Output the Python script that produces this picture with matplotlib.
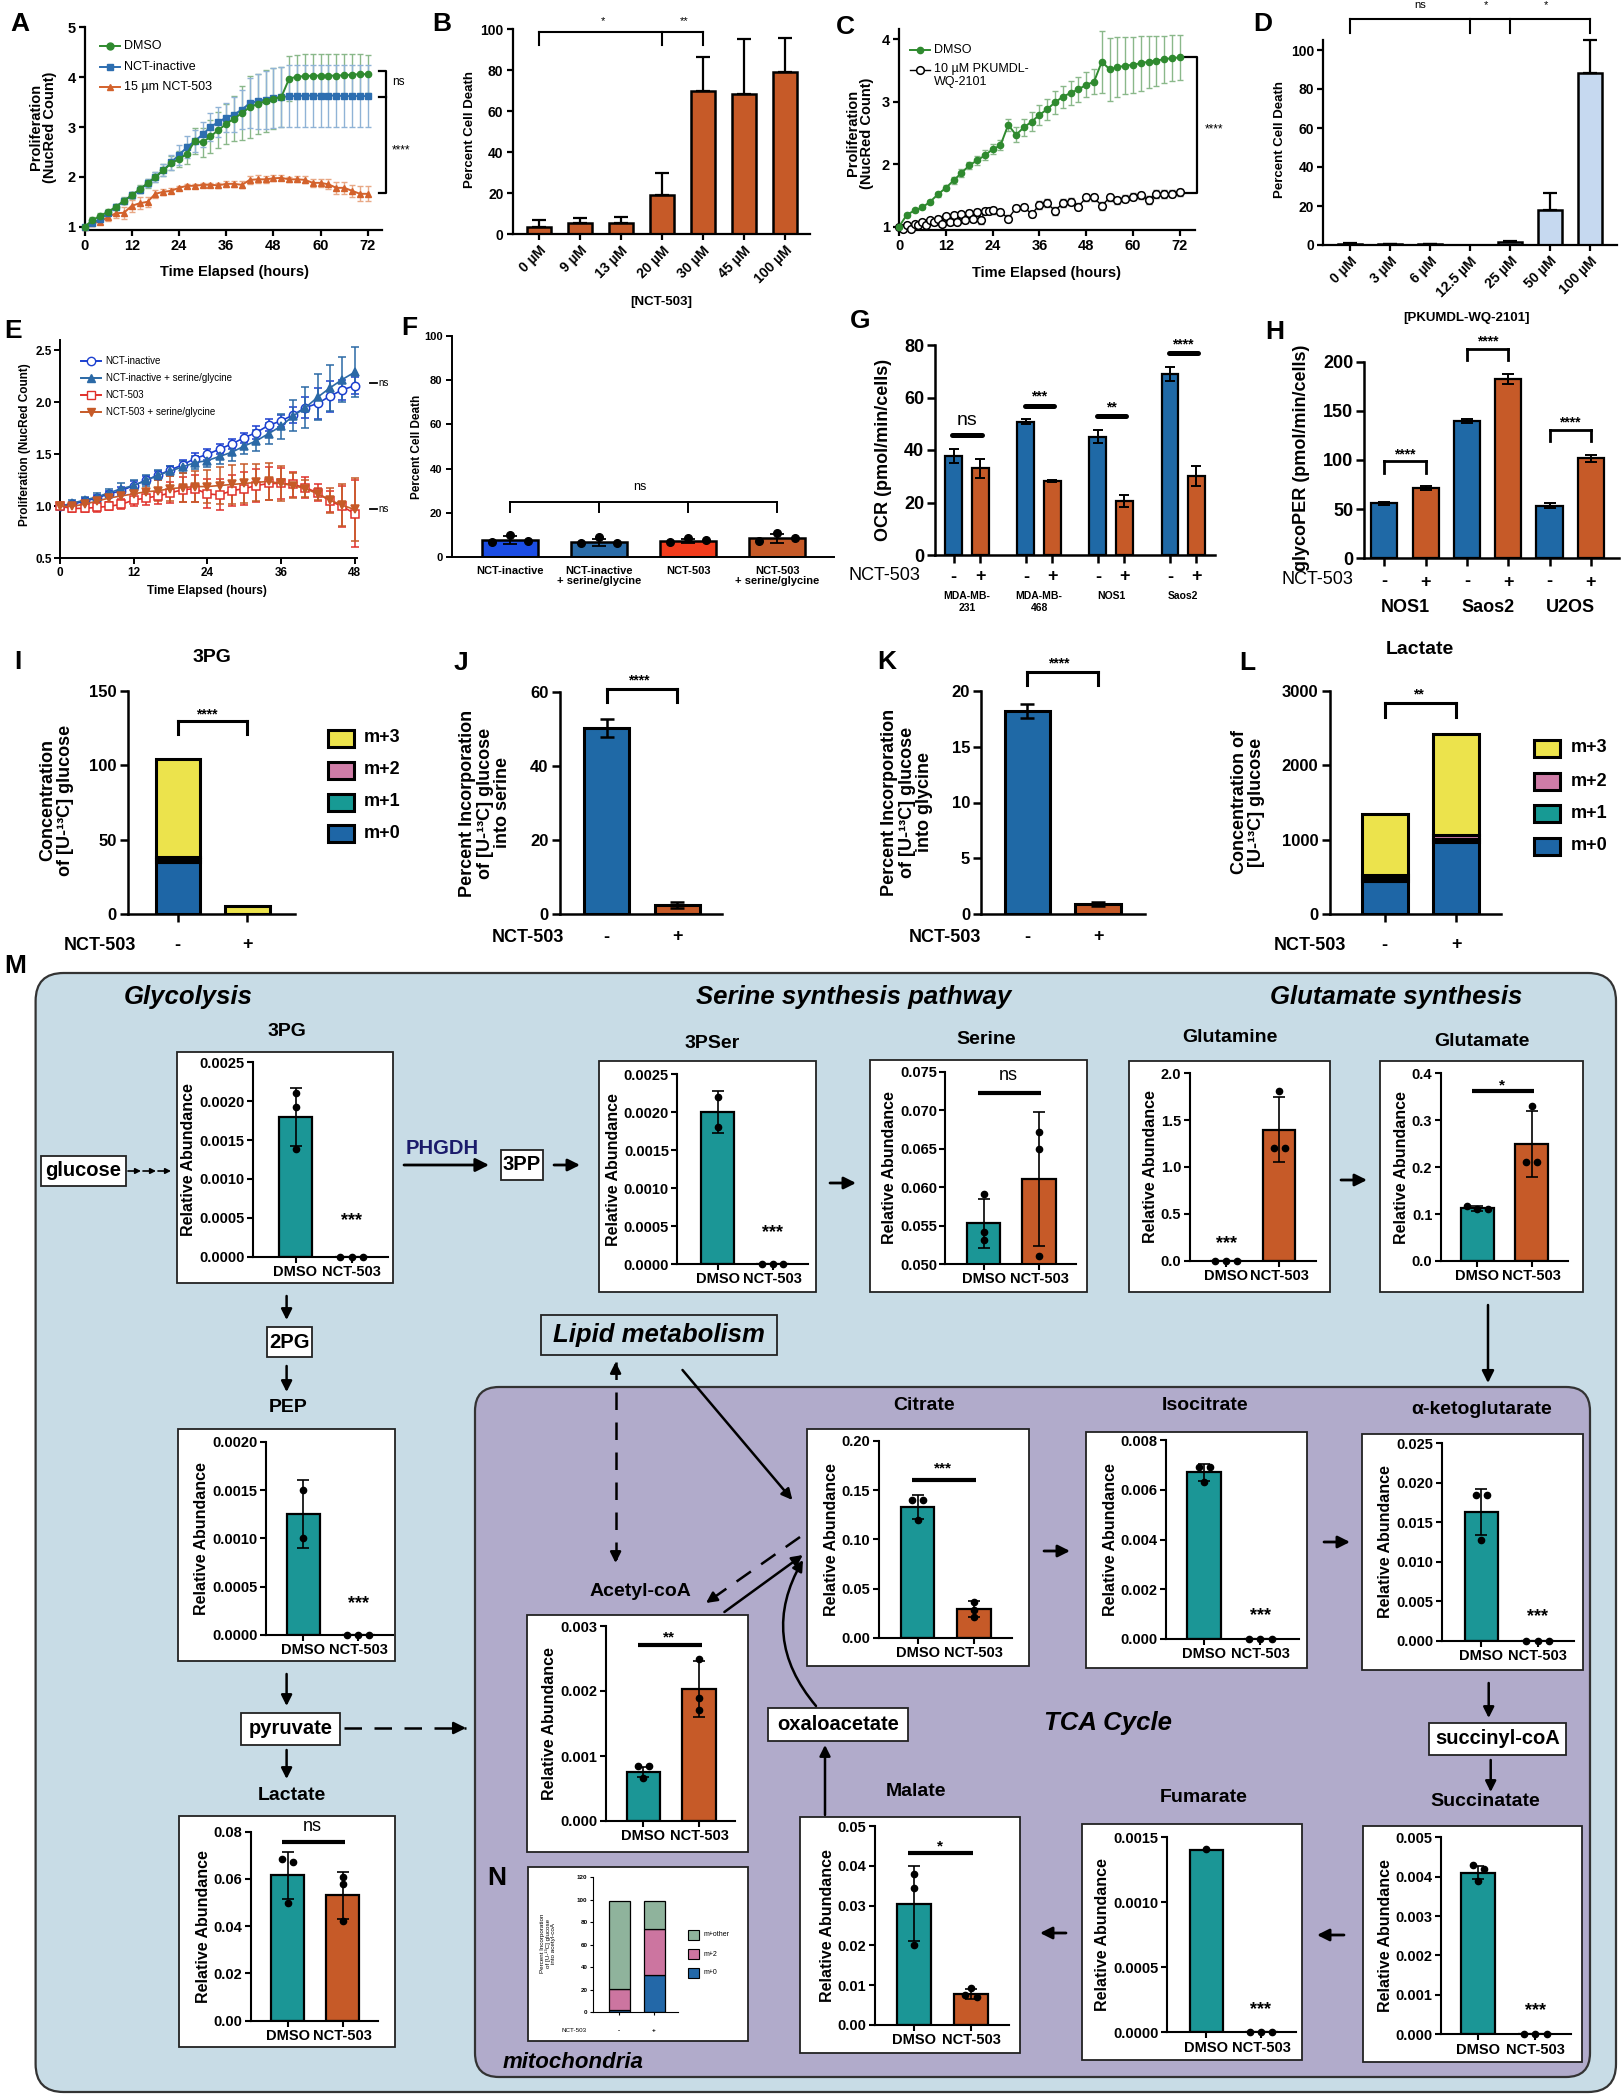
import matplotlib
matplotlib.use("Agg")
import matplotlib.pyplot as plt
from matplotlib.patches import Rectangle, FancyBboxPatch, FancyArrowPatch

# ---------------------------------------------------------------- data
# A: proliferation with 15 uM NCT-503
hours_a = list(range(0, 73, 2))
dmso_a = [1.00, 1.13, 1.22, 1.30, 1.40, 1.52, 1.63, 1.75, 1.87, 2.00, 2.13, 2.27, 2.36, 2.46, 2.72, 2.69,
          2.81, 2.94, 3.06, 3.17, 3.28, 3.40, 3.46, 3.52, 3.57, 3.60, 3.97, 4.01, 4.02, 4.03, 4.03, 4.03,
          4.03, 4.04, 4.05, 4.06, 4.06]
dmso_a_sd = [0.02, 0.06, 0.06, 0.06, 0.06, 0.07, 0.07, 0.08, 0.09, 0.10, 0.12, 0.14, 0.16, 0.20, 0.26, 0.30,
             0.33, 0.36, 0.40, 0.45, 0.55, 0.62, 0.60, 0.62, 0.62, 0.60, 0.45, 0.44, 0.44, 0.44, 0.44, 0.44,
             0.44, 0.43, 0.42, 0.40, 0.38]
inact_a = [1.00, 1.08, 1.15, 1.28, 1.40, 1.52, 1.63, 1.74, 1.87, 2.00, 2.13, 2.29, 2.44, 2.59, 2.72, 2.85,
           3.00, 3.10, 3.19, 3.25, 3.35, 3.48, 3.52, 3.55, 3.58, 3.60, 3.62, 3.62, 3.63, 3.63, 3.63, 3.63,
           3.63, 3.62, 3.62, 3.62, 3.62]
inact_a_sd = [0.02, 0.05, 0.05, 0.05, 0.05, 0.06, 0.06, 0.07, 0.08, 0.10, 0.12, 0.15, 0.20, 0.22, 0.22, 0.25,
              0.28, 0.30, 0.30, 0.35, 0.40, 0.50, 0.55, 0.58, 0.60, 0.60, 0.62, 0.62, 0.62, 0.62, 0.62, 0.62,
              0.62, 0.62, 0.62, 0.62, 0.62]
nct_a = [1.00, 1.07, 1.10, 1.20, 1.27, 1.28, 1.42, 1.47, 1.50, 1.66, 1.70, 1.72, 1.78, 1.82, 1.82, 1.84,
         1.84, 1.83, 1.86, 1.86, 1.84, 1.94, 1.95, 1.95, 1.97, 1.98, 1.95, 1.95, 1.94, 1.88, 1.88, 1.85,
         1.78, 1.78, 1.72, 1.66, 1.66]
nct_a_sd = [0.02, 0.05, 0.05, 0.08, 0.10, 0.12, 0.12, 0.12, 0.10, 0.08, 0.06, 0.05, 0.04, 0.04, 0.04, 0.04,
            0.04, 0.05, 0.06, 0.06, 0.07, 0.08, 0.08, 0.07, 0.06, 0.05, 0.05, 0.06, 0.07, 0.08, 0.08, 0.10,
            0.12, 0.12, 0.12, 0.15, 0.15]

# B: cell death vs NCT-503 dose
b_doses = ["0 µM", "9 µM", "13 µM", "20 µM", "30 µM", "45 µM", "100 µM"]
b_death = [3.7, 5.4, 5.4, 19.2, 70.1, 68.5, 79.3]
b_sd = [3.3, 2.4, 3.2, 10.9, 16.6, 26.6, 16.3]

# C: proliferation with PKUMDL-WQ-2101
hours_c = list(range(0, 73, 2))
dmso_c = [1.00, 1.19, 1.26, 1.31, 1.40, 1.52, 1.62, 1.74, 1.86, 1.98, 2.06, 2.14, 2.24, 2.30, 2.63, 2.47,
          2.59, 2.68, 2.79, 2.88, 2.99, 3.08, 3.14, 3.20, 3.27, 3.32, 3.64, 3.52, 3.55, 3.58, 3.59, 3.62,
          3.64, 3.66, 3.68, 3.70, 3.71]
dmso_c_sd = [0.02, 0.03, 0.03, 0.03, 0.03, 0.04, 0.04, 0.05, 0.06, 0.06, 0.07, 0.08, 0.08, 0.08, 0.10, 0.12,
             0.14, 0.15, 0.16, 0.17, 0.18, 0.18, 0.19, 0.20, 0.20, 0.20, 0.50, 0.50, 0.48, 0.46, 0.45, 0.44,
             0.42, 0.40, 0.38, 0.37, 0.36]
hours_pk = list(range(0, 25)) + list(range(26, 73, 2))
pk_c = [1.00, 0.97, 1.03, 0.97, 1.05, 1.02, 1.07, 1.03, 1.10, 1.07, 1.13, 1.05, 1.17, 1.07, 1.18, 1.08,
        1.20, 1.10, 1.22, 1.12, 1.24, 1.10, 1.25, 1.25, 1.26, 1.24, 1.13, 1.30, 1.32, 1.20, 1.35, 1.38,
        1.25, 1.38, 1.40, 1.32, 1.47, 1.47, 1.33, 1.47, 1.42, 1.45, 1.48, 1.50, 1.43, 1.52, 1.52, 1.53, 1.55]
pk_c_sd = [0.02, 0.03, 0.03, 0.03, 0.03, 0.03, 0.03, 0.03, 0.04, 0.04, 0.04, 0.04, 0.04, 0.04, 0.04, 0.04,
           0.04, 0.04, 0.05, 0.05, 0.05, 0.05, 0.05, 0.05, 0.05, 0.05, 0.05, 0.05, 0.05, 0.05, 0.06, 0.06,
           0.06, 0.06, 0.06, 0.06, 0.06, 0.06, 0.06, 0.06, 0.06, 0.06, 0.06, 0.06, 0.06, 0.06, 0.06, 0.06, 0.06]

# D: cell death vs PKUMDL-WQ-2101 dose
d_doses = ["0 µM", "3 µM", "6 µM", "12.5 µM", "25 µM", "50 µM", "100 µM"]
d_death = [0.5, 0.4, 0.4, 0.0, 1.4, 18.0, 88.0]
d_sd = [0.3, 0.2, 0.3, 0.0, 0.6, 8.5, 17.0]

# E: serine/glycine rescue
hours_e = list(range(0, 49, 2))
inact_e = [1.00, 1.02, 1.05, 1.08, 1.12, 1.15, 1.20, 1.25, 1.30, 1.35, 1.40, 1.46, 1.50, 1.55, 1.60, 1.66,
           1.71, 1.78, 1.82, 1.88, 1.95, 1.99, 2.06, 2.12, 2.16]
inact_e_sd = [0.02, 0.02, 0.03, 0.03, 0.03, 0.04, 0.04, 0.04, 0.04, 0.04, 0.05, 0.05, 0.05, 0.05, 0.05, 0.05,
              0.06, 0.06, 0.06, 0.08, 0.10, 0.15, 0.15, 0.10, 0.08]
inactsg_e = [1.00, 1.03, 1.06, 1.09, 1.13, 1.17, 1.20, 1.25, 1.30, 1.34, 1.38, 1.42, 1.44, 1.48, 1.52, 1.58,
             1.63, 1.70, 1.77, 1.87, 1.95, 2.05, 2.14, 2.22, 2.29]
inactsg_e_sd = [0.02, 0.03, 0.03, 0.04, 0.04, 0.05, 0.05, 0.05, 0.05, 0.05, 0.06, 0.06, 0.06, 0.07, 0.08, 0.08,
                0.10, 0.10, 0.12, 0.15, 0.20, 0.22, 0.22, 0.22, 0.24]
nct_e = [1.00, 0.98, 0.98, 0.99, 1.00, 1.02, 1.06, 1.08, 1.10, 1.13, 1.16, 1.17, 1.12, 1.11, 1.15, 1.17,
         1.20, 1.22, 1.22, 1.21, 1.18, 1.13, 1.05, 1.00, 0.93]
nct_e_sd = [0.03, 0.03, 0.03, 0.04, 0.04, 0.05, 0.06, 0.07, 0.08, 0.10, 0.12, 0.13, 0.14, 0.15, 0.15, 0.16,
            0.16, 0.16, 0.15, 0.12, 0.10, 0.08, 0.10, 0.20, 0.32]
nctsg_e = [1.00, 1.00, 1.02, 1.05, 1.08, 1.10, 1.12, 1.14, 1.15, 1.17, 1.18, 1.19, 1.19, 1.20, 1.21, 1.22,
           1.23, 1.24, 1.22, 1.20, 1.17, 1.12, 1.06, 1.01, 0.97]
nctsg_e_sd = [0.03, 0.03, 0.03, 0.04, 0.04, 0.05, 0.06, 0.08, 0.10, 0.12, 0.14, 0.15, 0.16, 0.18, 0.19, 0.19,
              0.18, 0.18, 0.17, 0.12, 0.08, 0.06, 0.12, 0.20, 0.30]

# F
f_groups = ["NCT-inactive", "NCT-inactive\n+ serine/glycine", "NCT-503", "NCT-503\n+ serine/glycine"]
f_death = [7.8, 6.8, 7.4, 8.6]
f_sd = [1.8, 1.5, 0.8, 2.0]
f_pts = [[7.1, 10.1, 7.4], [6.3, 9.0, 6.6], [7.1, 8.6, 7.7], [7.4, 10.8, 8.6]]

# G: OCR
g_cells = ["MDA-MB-\n231", "MDA-MB-\n468", "NOS1", "Saos2"]
g_ctrl = [37.7, 50.8, 45.1, 69.0]
g_ctrl_sd = [2.7, 0.9, 2.6, 2.6]
g_nct = [33.0, 28.2, 20.6, 30.2]
g_nct_sd = [3.6, 0.3, 2.3, 3.8]
g_sig = ["ns", "***", "**", "****"]

# H: glycoPER
h_cells = ["NOS1", "Saos2", "U2OS"]
h_ctrl = [56.0, 139.7, 53.6]
h_ctrl_sd = [1.5, 2.5, 2.7]
h_nct = [71.2, 182.4, 101.7]
h_nct_sd = [2.0, 5.0, 3.3]

# I / L isotopologue stacks (- / + NCT-503)
iso_names = ["m+3", "m+2", "m+1", "m+0"]
i_m0 = [34.7, 0.3]
i_m1 = [2.5, 0.0]
i_m2 = [1.0, 0.0]
i_m3 = [66.0, 5.3]
l_m0 = [440, 970]
l_m1 = [40, 40]
l_m2 = [50, 50]
l_m3 = [810, 1360]

# J / K
j_serine = [50.3, 2.4]
j_sd = [2.5, 0.9]
k_glycine = [18.2, 0.9]
k_sd = [0.6, 0.15]

# N: acetyl-coA labelling
n_names = ["m+other", "m+2", "m+0"]
n_m0 = [2.0, 33.0]
n_m2 = [19.0, 41.0]
n_other = [78.0, 25.0]

# M: relative abundance, DMSO vs NCT-503
treat = ["DMSO", "NCT-503"]
pg3_mean, pg3_sd = [0.00180, 0.0], [0.00037, 0.0]
pg3_pts = [[0.00210, 0.00193, 0.00138], [0.0, 0.0, 0.0]]
pser_mean, pser_sd = [0.00200, 0.0], [0.00028, 0.0]
pser_pts = [[0.00220, 0.00180], [0.0, 0.0, 0.0]]
ser_mean, ser_sd = [0.0553, 0.0610], [0.0032, 0.0087]
ser_pts = [[0.0591, 0.0541, 0.0531], [0.0671, 0.0650, 0.0510]]
gln_mean, gln_sd = [0.0, 1.40], [0.0, 0.35]
gln_pts = [[0.0, 0.0, 0.0], [1.81, 1.20, 1.20]]
glu_mean, glu_sd = [0.112, 0.250], [0.005, 0.070]
glu_pts = [[0.118, 0.110, 0.110], [0.330, 0.210, 0.210]]
pep_mean, pep_sd = [0.00125, 0.0], [0.00035, 0.0]
pep_pts = [[0.00150, 0.00100], [0.0, 0.0, 0.0]]
lac_mean, lac_sd = [0.0615, 0.0530], [0.0100, 0.0098]
lac_pts = [[0.0684, 0.0670, 0.0500], [0.0607, 0.0580, 0.0420]]
acoa_mean, acoa_sd = [0.00075, 0.00203], [0.00008, 0.00043]
acoa_pts = [[0.00084, 0.00084, 0.00066], [0.00250, 0.00189, 0.00171]]
cit_mean, cit_sd = [0.133, 0.029], [0.012, 0.008]
cit_pts = [[0.140, 0.140, 0.120], [0.036, 0.028, 0.021]]
icit_mean, icit_sd = [0.0067, 0.0], [0.00033, 0.0]
icit_pts = [[0.0069, 0.0069, 0.0063], [0.0, 0.0, 0.0]]
akg_mean, akg_sd = [0.0163, 0.0], [0.0029, 0.0]
akg_pts = [[0.0185, 0.0185, 0.0128], [0.0, 0.0, 0.0]]
mal_mean, mal_sd = [0.0305, 0.0078], [0.0095, 0.0012]
mal_pts = [[0.0379, 0.0343, 0.0201], [0.0092, 0.0075, 0.0071]]
fum_mean, fum_sd = [0.00140, 0.0], [0.0, 0.0]
fum_pts = [[0.00141], [0.0, 0.0, 0.0]]
suc_mean, suc_sd = [0.00410, 0.0], [0.00017, 0.0]
suc_pts = [[0.00430, 0.00420, 0.00390], [0.0, 0.0, 0.0]]

# ---------------------------------------------------------------- style
GREEN, GREEN_E = "#2f8a2f", "#8ab88a"
BLUE_A, BLUE_A_E = "#2d6eb0", "#90b3d6"
ORANGE_A, ORANGE_A_E = "#d3622c", "#e8a885"
ORANGE = "#c65a28"
BLUE = "#1f69a6"
TEAL = "#1b9696"
LIGHTBLUE = "#c6d9f0"
ISO_COL = {"m+0": "#1e66a6", "m+1": "#179a94", "m+2": "#cf7ca7", "m+3": "#ece34c"}
N_COL = {"m+0": "#2368a8", "m+2": "#cc75a0", "m+other": "#8fb39c"}
CYTO = "#c8dce6"
MITO = "#b1abcb"

plt.rcParams.update({
    "font.family": ["Liberation Sans", "DejaVu Sans"],
    "font.weight": "bold",
    "axes.labelweight": "bold",
})

W, H = 1623, 2100
fig = plt.figure(figsize=(W / 100, H / 100), dpi=100)
bg = fig.add_axes([0, 0, 1, 1])
bg.set_xlim(0, W)
bg.set_ylim(H, 0)
bg.axis("off")


def axes_px(xl, xr, yt, yb, xlim, ylim, fs=10, lw=1.6, tl=4.5):
    ax = fig.add_axes([xl / W, 1 - yb / H, (xr - xl) / W, (yb - yt) / H])
    ax.set_xlim(*xlim)
    ax.set_ylim(*ylim)
    ax.patch.set_visible(False)
    ax.spines["top"].set_visible(False)
    ax.spines["right"].set_visible(False)
    for s in ("left", "bottom"):
        ax.spines[s].set_linewidth(lw)
    ax.tick_params(direction="out", width=lw, length=tl, labelsize=fs, pad=2)
    ax.geom = (xl, xr, yt, yb)
    return ax


def cat_axes(xl, xr, yt, yb, c0, sp, ylim, **kw):
    return axes_px(xl, xr, yt, yb, ((xl - c0) / sp, (xr - c0) / sp), ylim, **kw)


def to_px(ax, x):
    xl, xr, _, _ = ax.geom
    a, b = ax.get_xlim()
    return xl + (x - a) / (b - a) * (xr - xl)


def txt(x, y, s, fs, **kw):
    kw.setdefault("ha", "center")
    kw.setdefault("va", "center")
    return bg.text(x, y, s, fontsize=fs, **kw)


def vlabel(x, y, s, fs, **kw):
    return txt(x, y, s, fs, rotation=90, multialignment="center", linespacing=1.05, **kw)


def stars(ax, x, y, s, fs, dy=-3):
    ax.annotate(s, (x, y), xytext=(0, dy), textcoords="offset points", ha="center", va="center",
                fontsize=fs, annotation_clip=False)


def err(ax, xs, vals, sds, up_only=False, lw=1.5, cap=4, color="black", z=3):
    keep = [(x, v, e) for x, v, e in zip(xs, vals, sds) if e > 0]
    if not keep:
        return
    xs, vals, sds = zip(*keep)
    yerr = [[0] * len(sds), list(sds)] if up_only else list(sds)
    ax.errorbar(xs, vals, yerr=yerr, fmt="none", ecolor=color, elinewidth=lw,
                capsize=cap, capthick=lw, zorder=z, clip_on=False)


def bracket(ax, xs, y, drop, lw=1.5):
    ax.plot([min(xs), max(xs)], [y, y], color="black", lw=lw, clip_on=False, solid_capstyle="projecting")
    for x in xs:
        ax.plot([x, x], [y, y - drop], color="black", lw=lw, clip_on=False)


def arrow(x0, y0, x1, y1, ms=16, lw=1.8, rad=0.0):
    bg.add_patch(FancyArrowPatch((x0, y0), (x1, y1), arrowstyle="-|>", mutation_scale=ms, lw=lw,
                                 color="black", connectionstyle=f"arc3,rad={rad}", shrinkA=0, shrinkB=0))


def dashed_arrow(x0, y0, x1, y1, ms=16, lw=1.8, both=False):
    bg.plot([x0, x1], [y0, y1], color="black", lw=lw, dashes=(7, 5))
    d = ((x1 - x0) ** 2 + (y1 - y0) ** 2) ** 0.5
    ux, uy = (x1 - x0) / d, (y1 - y0) / d
    arrow(x1 - 10 * ux, y1 - 10 * uy, x1, y1, ms=ms, lw=lw)
    if both:
        arrow(x0 + 10 * ux, y0 + 10 * uy, x0, y0, ms=ms, lw=lw)


def rect(x0, y0, x1, y1, fc="white", lw=1.3):
    bg.add_patch(Rectangle((x0, y0), x1 - x0, y1 - y0, facecolor=fc, edgecolor="#222222", lw=lw, zorder=1))


def stacked(ax, layers, colors, width, lw):
    bottom = [0.0] * len(layers[0])
    for vals, c in zip(layers, colors):
        ax.bar(range(len(vals)), vals, width, bottom=bottom, color=c, edgecolor="black", lw=lw, zorder=2)
        bottom = [b + v for b, v in zip(bottom, vals)]


def legend_squares(x0, ys, labels, colors, w, h, fs, tx, lw=2.2, weight="bold"):
    for y, lab, c in zip(ys, labels, colors):
        bg.add_patch(Rectangle((x0, y - h / 2), w, h, facecolor=c, edgecolor="black", lw=lw))
        txt(tx, y, lab, fs, ha="left", fontweight=weight)


def leg_line(x, y, color, marker, text, fs, ms=5, mfc=None, tx=None):
    bg.plot([x - 10, x + 10], [y, y], color=color, lw=1.4)
    bg.plot([x], [y], marker=marker, color=color, ms=ms, mfc=mfc if mfc else color, mec=color)
    txt(tx if tx else x + 14, y, text, fs, ha="left", fontweight="normal")


# ================================================================ A
txt(20, 24, "A", 19)
axA = axes_px(84.6, 382, 27.3, 230, (0, 75.6), (0.934, 5.0), fs=10.5)
axA.set_xticks(range(0, 73, 12))
axA.set_yticks(range(1, 6))
for vals, sd, ec in ((dmso_a, dmso_a_sd, GREEN_E), (inact_a, inact_a_sd, BLUE_A_E), (nct_a, nct_a_sd, ORANGE_A_E)):
    err(axA, hours_a, vals, sd, lw=1.0, cap=2.5, color=ec, z=2)
for vals, c, m in ((nct_a, ORANGE_A, "^"), (inact_a, BLUE_A, "s"), (dmso_a, GREEN, "o")):
    axA.plot(hours_a, vals, color=c, marker=m, ms=4.5, lw=1.4, zorder=3, clip_on=False)
leg_line(110, 46, GREEN, "o", "DMSO", 9, tx=124)
leg_line(110, 67, BLUE_A, "s", "NCT-inactive", 9, tx=124)
leg_line(110, 87, ORANGE_A, "^", "15 µm NCT-503", 9, tx=124)
bg.plot([378.6, 386, 386, 378.6], [71, 71, 193, 193], color="black", lw=1.6)
bg.plot([378.6, 386], [97, 97], color="black", lw=1.6)
txt(392, 82, "ns", 8.5, ha="left", fontweight="normal")
txt(392, 150, "****", 8.5, ha="left", fontweight="normal")
vlabel(43, 127, "Proliferation\n(NucRed Count)", 10.5)
txt(234, 272, "Time Elapsed (hours)", 10.5)

# ================================================================ B
txt(442, 24, "B", 19)
axB = cat_axes(512.5, 810, 29.3, 234.3, 539, 41, (0, 100), fs=10)
xb = list(range(len(b_doses)))
axB.bar(xb, b_death, 0.6, color=ORANGE, edgecolor="black", lw=1.8, zorder=2)
err(axB, xb, b_death, b_sd, up_only=True, lw=1.6, cap=5)
axB.set_xticks(xb)
axB.set_xticklabels(b_doses, rotation=45, ha="right", rotation_mode="anchor")
axB.set_yticks(range(0, 101, 20))
bracket(axB, [0, 3, 4], 98.5, 6.2)
axB.text(1.55, 104, "*", ha="center", va="center", fontsize=8, fontweight="normal")
axB.text(3.55, 104, "**", ha="center", va="center", fontsize=8, fontweight="normal")
vlabel(470, 130, "Percent Cell Death", 9.5)
txt(661, 302, "[NCT-503]", 9.5)

# ================================================================ C
txt(845, 27, "C", 19)
axC = axes_px(899, 1195, 29.3, 230, (0, 75.9), (0.947, 4.16), fs=10.5)
axC.set_xticks(range(0, 73, 12))
axC.set_yticks(range(1, 5))
err(axC, hours_c, dmso_c, dmso_c_sd, lw=1.0, cap=2.5, color=GREEN_E, z=2)
err(axC, hours_pk, pk_c, pk_c_sd, lw=1.0, cap=2.5, color="#555555", z=2)
axC.plot(hours_pk, pk_c, color="black", lw=1.0, marker="o", ms=5.5, mfc="white", mec="black",
         mew=1.1, zorder=3, clip_on=False)
axC.plot(hours_c, dmso_c, color=GREEN, lw=1.4, marker="o", ms=4.5, zorder=4, clip_on=False)
leg_line(920, 50, GREEN, "o", "DMSO", 9, ms=4.5, tx=934)
bg.plot([910, 930], [70, 70], color="black", lw=1.0)
bg.plot([920], [70], marker="o", ms=5.5, mfc="white", mec="black", mew=1.1)
txt(934, 63, "10 µM PKUMDL-\nWQ-2101", 9, ha="left", va="top", fontweight="normal", linespacing=1.1)
bg.plot([1185, 1197, 1197, 1185], [57, 57, 193, 193], color="black", lw=1.6)
txt(1205, 129, "****", 8.5, ha="left", fontweight="normal")
vlabel(860, 133, "Proliferation\n(NucRed Count)", 10.5)
txt(1046, 273, "Time Elapsed (hours)", 10.5)

# ================================================================ D
txt(1263, 24, "D", 19)
axD = cat_axes(1323, 1617, 40.25, 245, 1350, 40, (0, 105), fs=10)
xd = list(range(len(d_doses)))
axD.bar(xd, d_death, 0.6, color=LIGHTBLUE, edgecolor="black", lw=1.8, zorder=2)
err(axD, xd, d_death, d_sd, up_only=True, lw=1.6, cap=5)
axD.set_xticks(xd)
axD.set_xticklabels(d_doses, rotation=45, ha="right", rotation_mode="anchor")
axD.set_yticks(range(0, 101, 20))
bracket(axD, [0, 3, 4, 6], 115.7, 7.0)
axD.text(1.75, 123, "ns", ha="center", va="center", fontsize=8, fontweight="normal")
axD.text(3.4, 123, "*", ha="center", va="center", fontsize=8, fontweight="normal")
axD.text(4.9, 123, "*", ha="center", va="center", fontsize=8, fontweight="normal")
vlabel(1280, 140, "Percent Cell Death", 9.5)
txt(1467, 318, "[PKUMDL-WQ-2101]", 9.5)

# ================================================================ E
txt(13, 331, "E", 19)
axE = axes_px(60, 357, 340, 558.3, (0, 48.4), (0.5, 2.6), fs=8.5, lw=1.4, tl=4)
axE.set_xticks(range(0, 49, 12))
axE.set_yticks([0.5, 1.0, 1.5, 2.0, 2.5])
axE.set_yticklabels(["0.5", "1.0", "1.5", "2.0", "2.5"])
e_series = [
    (inact_e, inact_e_sd, "#1b3fcf", "o", "white", "NCT-inactive"),
    (inactsg_e, inactsg_e_sd, "#2b69a6", "^", None, "NCT-inactive + serine/glycine"),
    (nct_e, nct_e_sd, "#e0302a", "s", "white", "NCT-503"),
    (nctsg_e, nctsg_e_sd, "#c65a28", "v", None, "NCT-503 + serine/glycine"),
]
for k, (vals, sd, c, m, mfc, lab) in enumerate(e_series):
    err(axE, hours_e, vals, sd, lw=1.1, cap=3, color=c, z=2)
    axE.plot(hours_e, vals, color=c, lw=1.2, marker=m, ms=6, mfc=mfc if mfc else c, mec=c,
             mew=1.1, zorder=3, clip_on=False)
    leg_line(91, 361 + 17 * k, c, m, lab, 7, ms=6, mfc=mfc, tx=105.6)
for y in (382.7, 509):
    bg.plot([370, 376.5], [y, y], color="black", lw=1.3)
    txt(378.5, y, "ns", 7, ha="left", fontweight="normal")
vlabel(25.5, 445, "Proliferation (NucRed Count)", 8.5)
txt(206.6, 590.7, "Time Elapsed (hours)", 8.5)

# ================================================================ F
txt(409, 328, "F", 19)
axF = cat_axes(451.5, 834, 335.7, 557.3, 510, 89, (0, 100), fs=8, lw=1.4)
xf = list(range(len(f_groups)))
axF.bar(xf, f_death, 0.64, color=["#1b4de4", "#2b6ca8", "#f23c1c", "#c55a28"], edgecolor="black",
        lw=1.8, zorder=2)
err(axF, xf, f_death, f_sd, lw=1.3, cap=5)
for i, vals in enumerate(f_pts):
    axF.plot([i - 0.2, i, i + 0.2], vals, "o", color="black", ms=5.5, zorder=4)
axF.set_xticks(xf)
axF.set_xticklabels(f_groups, fontsize=8, linespacing=1.05)
axF.tick_params(axis="x", length=0, pad=6)
axF.set_yticks(range(0, 101, 20))
bracket(axF, [0, 1, 2, 3], 24.8, 4.5, lw=1.4)
axF.text(1.46, 31.5, "ns", ha="center", va="center", fontsize=9, fontweight="normal")
vlabel(417, 447, "Percent Cell Death", 8.5)

# ================================================================ G
txt(860, 321, "G", 19)
axG = cat_axes(935.4, 1214.7, 345, 555, 953.8, 26.45, (0, 80), fs=13, lw=1.8, tl=6)
g_x0 = [i * 2.725 for i in range(len(g_cells))]
g_x1 = [x + 1 for x in g_x0]
axG.bar(g_x0, g_ctrl, 0.64, color=BLUE, edgecolor="black", lw=1.6, zorder=2)
axG.bar(g_x1, g_nct, 0.64, color=ORANGE, edgecolor="black", lw=1.6, zorder=2)
err(axG, g_x0, g_ctrl, g_ctrl_sd, lw=1.4, cap=3.5)
err(axG, g_x1, g_nct, g_nct_sd, lw=1.4, cap=3.5)
axG.set_xticks(g_x0 + g_x1)
axG.set_xticklabels([])
axG.set_yticks(range(0, 81, 20))
for x0, x1, a, sa, b, sb, s in zip(g_x0, g_x1, g_ctrl, g_ctrl_sd, g_nct, g_nct_sd, g_sig):
    y = max(a + sa, b + sb) + 5.2
    axG.plot([x0 - 0.05, x1 + 0.05], [y, y], color="black", lw=3.6, solid_capstyle="round", clip_on=False)
    if s == "ns":
        axG.text((x0 + x1) / 2, y + 5.5, s, ha="center", va="center", fontsize=14, fontweight="normal")
    else:
        stars(axG, (x0 + x1) / 2, y + 5.0, s, 10)
for x0, x1, name in zip(g_x0, g_x1, g_cells):
    txt(to_px(axG, x0), 577, "-", 13)
    txt(to_px(axG, x1), 577, "+", 13)
    txt((to_px(axG, x0) + to_px(axG, x1)) / 2, 591, name, 7.5, va="top", linespacing=1.3)
txt(884, 575, "NCT-503", 13, fontweight="normal")
vlabel(884, 450, "OCR (pmol/min/cells)", 13)

# ================================================================ H
txt(1275, 332, "H", 19)
axH = cat_axes(1364.3, 1619, 361.7, 558.3, 1384.3, 41.3, (0, 200), fs=13, lw=1.8, tl=6)
h_x0 = [2 * i for i in range(len(h_cells))]
h_x1 = [x + 1 for x in h_x0]
axH.bar(h_x0, h_ctrl, 0.63, color=BLUE, edgecolor="black", lw=1.6, zorder=2)
axH.bar(h_x1, h_nct, 0.63, color=ORANGE, edgecolor="black", lw=1.6, zorder=2)
err(axH, h_x0, h_ctrl, h_ctrl_sd, lw=1.4, cap=4)
err(axH, h_x1, h_nct, h_nct_sd, lw=1.4, cap=4)
axH.set_xticks(h_x0 + h_x1)
axH.set_xticklabels([])
axH.set_yticks(range(0, 201, 50))
for x0, x1, a, sa, b, sb, name in zip(h_x0, h_x1, h_ctrl, h_ctrl_sd, h_nct, h_nct_sd, h_cells):
    y = max(a + sa, b + sb) + 26
    bracket(axH, [x0, x1], y, 12, lw=2.0)
    stars(axH, (x0 + x1) / 2, y + 11, "****", 10)
    txt(to_px(axH, x0), 582, "-", 13)
    txt(to_px(axH, x1), 582, "+", 13)
    txt((to_px(axH, x0) + to_px(axH, x1)) / 2, 607, name, 13)
txt(1317, 580, "NCT-503", 13, fontweight="normal")
vlabel(1301, 458, "glycoPER (pmol/min/cells)", 13)

# ================================================================ I
txt(18, 662, "I", 19)
txt(212, 658, "3PG", 14)
axI = cat_axes(128, 294.5, 691, 914, 177.8, 69.6, (0, 150), fs=12, lw=1.8, tl=6)
stacked(axI, [i_m0, i_m1, i_m2, i_m3], [ISO_COL[k] for k in ("m+0", "m+1", "m+2", "m+3")], 0.64, 2.2)
axI.set_xticks([0, 1])
axI.set_xticklabels([])
axI.set_yticks(range(0, 151, 50))
bracket(axI, [0, 1], 129.8, 8.8, lw=2.2)
stars(axI, 0.41, 137, "****", 10)
legend_squares(328, [738, 770, 802, 833], iso_names, [ISO_COL[k] for k in iso_names], 26, 17, 13, 364)
vlabel(57, 800, "Concentration\nof [U-¹³C] glucose", 13)
txt(100, 945, "NCT-503", 13)
txt(to_px(axI, 0), 945, "-", 13)
txt(to_px(axI, 1), 945, "+", 13)

# ================================================================ J
txt(461, 663, "J", 19)
axJ = cat_axes(559.6, 721.8, 692.3, 914, 606.7, 70.6, (0, 60), fs=12, lw=1.8, tl=6)
axJ.bar([0, 1], j_serine, 0.64, color=[BLUE, ORANGE], edgecolor="black", lw=2.2, zorder=2)
err(axJ, [0, 1], j_serine, j_sd, lw=1.8, cap=5)
axJ.set_xticks([])
axJ.set_yticks(range(0, 61, 20))
bracket(axJ, [0, 1], 60.9, 3.6, lw=2.2)
stars(axJ, 0.45, 64.2, "****", 10)
vlabel(485, 803, "Percent Incorporation\nof [U-¹³C] glucose\ninto serine", 13)
txt(528, 937, "NCT-503", 13)
txt(to_px(axJ, 0), 937, "-", 13)
txt(to_px(axJ, 1), 937, "+", 13)

# ================================================================ K
txt(887, 662, "K", 19)
axK = cat_axes(981.3, 1145, 691, 914, 1027.4, 70.7, (0, 20), fs=12, lw=1.8, tl=6)
axK.bar([0, 1], k_glycine, 0.64, color=[BLUE, ORANGE], edgecolor="black", lw=2.2, zorder=2)
err(axK, [0, 1], k_glycine, k_sd, lw=1.8, cap=5)
axK.set_xticks([])
axK.set_yticks(range(0, 21, 5))
bracket(axK, [0, 1], 21.7, 1.2, lw=2.2)
stars(axK, 0.45, 22.8, "****", 10)
vlabel(907, 802, "Percent Incorporation\nof [U-¹³C] glucose\ninto glycine", 13)
txt(945, 937, "NCT-503", 13)
txt(to_px(axK, 0), 937, "-", 13)
txt(to_px(axK, 1), 937, "+", 13)

# ================================================================ L
txt(1247, 663, "L", 19)
txt(1420, 650, "Lactate", 14)
axL = cat_axes(1329.5, 1501, 691, 914, 1384.8, 71.2, (0, 3000), fs=12, lw=1.8, tl=6)
stacked(axL, [l_m0, l_m1, l_m2, l_m3], [ISO_COL[k] for k in ("m+0", "m+1", "m+2", "m+3")], 0.64, 2.2)
axL.set_xticks([0, 1])
axL.set_xticklabels([])
axL.set_yticks(range(0, 3001, 1000))
bracket(axL, [0, 1], 2839, 184, lw=2.2)
stars(axL, 0.47, 3010, "**", 10)
legend_squares(1534, [748, 781, 813, 846], iso_names, [ISO_COL[k] for k in iso_names], 26, 17, 13, 1571)
vlabel(1248, 802, "Concentration of\n[U-¹³C] glucose", 13)
txt(1310, 945, "NCT-503", 13)
txt(to_px(axL, 0), 945, "-", 13)
txt(to_px(axL, 1), 945, "+", 13)

# ================================================================ M: pathway
txt(15, 966, "M", 19)
bg.add_patch(FancyBboxPatch((35.6, 973), 1616 - 35.6, 2092 - 973, boxstyle="round,pad=0,rounding_size=28",
                            facecolor=CYTO, edgecolor="#333333", lw=1.6, zorder=0))
bg.add_patch(FancyBboxPatch((475, 1387), 1590 - 475, 2077 - 1387, boxstyle="round,pad=0,rounding_size=24",
                            facecolor=MITO, edgecolor="#333333", lw=1.6, zorder=0))

txt(188, 997, "Glycolysis", 18.5, style="italic")
txt(854, 997, "Serine synthesis pathway", 18.5, style="italic")
txt(1396, 997, "Glutamate synthesis", 18.5, style="italic")
txt(1108, 1723, "TCA Cycle", 18.5, style="italic")
txt(573, 2062, "mitochondria", 16, style="italic")

# metabolite boxes without data
for (x0, y0, x1, y1), name, fs, sty, fc in [
    ((40.8, 1155.7, 125.5, 1185.7), "glucose", 14.5, "normal", "white"),
    ((501, 1150, 543, 1180), "3PP", 14.5, "normal", "white"),
    ((266.7, 1326.7, 311.7, 1357.3), "2PG", 14.5, "normal", "white"),
    ((240.6, 1713, 340, 1745), "pyruvate", 14.5, "normal", "white"),
    ((767.8, 1708, 907.6, 1741), "oxaloacetate", 14.5, "normal", "white"),
    ((1428.9, 1723, 1566.4, 1755), "succinyl-coA", 14.5, "normal", "white"),
    ((541, 1315, 777, 1355), "Lipid metabolism", 18.5, "italic", CYTO),
]:
    rect(x0, y0, x1, y1, fc=fc)
    txt((x0 + x1) / 2, (y0 + y1) / 2, name, fs, style=sty, zorder=2)
txt(442, 1148, "PHGDH", 14.5, color="#1b1b6b")

# arrows
for x in (128, 143, 158):
    arrow(x, 1171, x + 13, 1171, ms=8, lw=1.2)
arrow(404, 1165, 489, 1165, ms=20, lw=2.0)
arrow(554, 1165, 580, 1165, ms=18, lw=2.0)
arrow(830, 1183, 856, 1183, ms=18, lw=2.0)
arrow(1341, 1180, 1367, 1180, ms=18, lw=2.0)
arrow(1488, 1305, 1488, 1383, ms=18, lw=1.8)
arrow(286.6, 1296, 286.6, 1320, ms=16, lw=1.8)
arrow(286.6, 1366, 286.6, 1392, ms=16, lw=1.8)
arrow(286.6, 1674, 286.6, 1706, ms=16, lw=1.8)
arrow(286.6, 1750, 286.6, 1779, ms=16, lw=1.8)
dashed_arrow(344, 1728, 466, 1728, ms=18)
dashed_arrow(615.6, 1362, 615.6, 1563, ms=16, both=True)
arrow(682.5, 1370, 792.4, 1500, ms=16, lw=1.8)
dashed_arrow(800, 1537, 706, 1603, ms=16)
arrow(724.4, 1612, 802.8, 1555, ms=16, lw=1.8)
arrow(816, 1706, 803, 1560, ms=16, lw=1.8, rad=-0.35)
arrow(825, 1815, 825, 1745, ms=16, lw=1.8)
arrow(1044, 1551, 1070, 1551, ms=18, lw=2.0)
arrow(1324, 1542, 1350, 1542, ms=18, lw=2.0)
arrow(1488.7, 1683, 1488.7, 1718, ms=16, lw=1.8)
arrow(1490.7, 1760, 1490.7, 1792, ms=16, lw=1.8)
arrow(1344, 1935, 1317, 1935, ms=18, lw=2.0)
arrow(1066, 1933, 1040, 1933, ms=18, lw=2.0)


def spread(vals, tol):
    groups = []
    for i, v in enumerate(vals):
        for g in groups:
            if abs(vals[g[0]] - v) < tol:
                g.append(i)
                break
        else:
            groups.append([i])
    offs = [0.0] * len(vals)
    for g in groups:
        for k, i in enumerate(g):
            offs[i] = (k - (len(g) - 1) / 2) * 0.2
    return offs


def mini(mean, sd, pts, boxr, geom, ylim, step, fmt, title, title_xy, note):
    rect(*boxr)
    xl, c0, c1, xr, yt, yb = geom
    ax = cat_axes(xl, xr, yt, yb, c0, c1 - c0, ylim, fs=10.5, lw=1.5, tl=4)
    ax.bar([0, 1], mean, 0.6, color=[TEAL, ORANGE], edgecolor="black", lw=1.6, zorder=2)
    err(ax, [0, 1], mean, sd, lw=1.2, cap=4)
    for i, vals in enumerate(pts):
        offs = spread(vals, (ylim[1] - ylim[0]) * 0.03)
        ax.plot([i + o for o in offs], vals, "o", color="black", ms=4.5, zorder=4, clip_on=False)
    n = round((ylim[1] - ylim[0]) / step)
    ticks = [ylim[0] + k * step for k in range(n + 1)]
    ax.set_yticks(ticks)
    ax.set_yticklabels([fmt % t for t in ticks])
    ax.set_xticks([0, 1])
    ax.set_xticklabels(treat, fontsize=10.5)
    ax.set_ylabel("Relative Abundance", fontsize=11.5, labelpad=2)
    txt(title_xy[0], title_xy[1], title, 14)
    if note[0] == "stars":
        stars(ax, note[1], note[2], "***", 13, dy=-4)
    else:
        _, y, s, ty = note
        ax.plot([-0.1, 1.04], [y, y], color="black", lw=3, solid_capstyle="butt", clip_on=False)
        if s == "ns":
            ax.text(0.45, ty, s, ha="center", va="center", fontsize=13, fontweight="normal")
        else:
            stars(ax, 0.45, ty, s, 11)
    return ax


mini(pg3_mean, pg3_sd, pg3_pts, (177, 1052, 393, 1283), (252.6, 295.5, 351.5, 388, 1062.3, 1256.7),
     (0, 0.0025), 0.0005, "%.4f", "3PG", (286.6, 1031), ("stars", 1, 0.00053))
mini(pser_mean, pser_sd, pser_pts, (599, 1061, 816, 1292), (677.3, 717.6, 772.5, 808, 1074.3, 1264),
     (0, 0.0025), 0.0005, "%.4f", "3PSer", (712, 1043), ("stars", 1, 0.00049))
mini(ser_mean, ser_sd, ser_pts, (870, 1060, 1087, 1292), (945.4, 983.9, 1039, 1076, 1071.7, 1264),
     (0.05, 0.075), 0.005, "%.3f", "Serine", (986.4, 1040), ("line", 0.0722, "ns", 0.0745))
mini(gln_mean, gln_sd, gln_pts, (1129, 1061, 1330, 1292), (1189.7, 1226, 1279.3, 1315.6, 1073.3, 1260.7),
     (0, 2.0), 0.5, "%.1f", "Glutamine", (1229.6, 1037), ("stars", 0, 0.24))
mini(glu_mean, glu_sd, glu_pts, (1380, 1061, 1583, 1292), (1440.6, 1477.4, 1531.7, 1567.6, 1073.3, 1261),
     (0, 0.4), 0.1, "%.1f", "Glutamate", (1481.6, 1042), ("line", 0.363, "*", 0.384))
mini(pep_mean, pep_sd, pep_pts, (178, 1429, 395, 1661), (265.7, 303.3, 358.3, 393, 1441.7, 1635),
     (0, 0.0020), 0.0005, "%.4f", "PEP", (287.7, 1408), ("stars", 1, 0.00038))
mini(lac_mean, lac_sd, lac_pts, (179, 1816, 395, 2047), (250.5, 287.8, 342.7, 377.8, 1831.7, 2020.7),
     (0, 0.08), 0.02, "%.2f", "Lactate", (292, 1795), ("line", 0.0757, "ns", 0.082))
mini(acoa_mean, acoa_sd, acoa_pts, (527, 1615, 748, 1852), (605.6, 643.3, 699.3, 735, 1626, 1821),
     (0, 0.003), 0.001, "%.3f", "Acetyl-coA", (640.7, 1592), ("line", 0.00271, "**", 0.00289))
mini(cit_mean, cit_sd, cit_pts, (807, 1429, 1029, 1666), (878.7, 917.6, 973.8, 1011.5, 1441, 1637.7),
     (0, 0.20), 0.05, "%.2f", "Citrate", (924.4, 1405), ("line", 0.16, "***", 0.176))
mini(icit_mean, icit_sd, icit_pts, (1086, 1432, 1307, 1668), (1165.9, 1204.2, 1260.4, 1298.7, 1440, 1639),
     (0, 0.008), 0.002, "%.3f", "Isocitrate", (1205.3, 1405), ("stars", 1, 0.00116))
mini(akg_mean, akg_sd, akg_pts, (1362, 1434, 1583, 1670), (1441.5, 1481.4, 1537.5, 1574.3, 1443.3, 1640.7),
     (0, 0.025), 0.005, "%.3f", "α-ketoglutarate", (1481.4, 1409), ("stars", 1, 0.0037))
mini(mal_mean, mal_sd, mal_pts, (800, 1817, 1020, 2053), (874.7, 914, 971, 1009, 1826, 2025),
     (0, 0.05), 0.01, "%.2f", "Malate", (916, 1791), ("line", 0.0431, "*", 0.046))
mini(fum_mean, fum_sd, fum_pts, (1082, 1824, 1302, 2060), (1166.7, 1206, 1261, 1296, 1837.3, 2032.3),
     (0, 0.0015), 0.0005, "%.4f", "Fumarate", (1204, 1798), ("stars", 1, 0.00022))
mini(suc_mean, suc_sd, suc_pts, (1363, 1826, 1582, 2062), (1441, 1478.3, 1535.2, 1571.4, 1837.3, 2034.3),
     (0, 0.005), 0.001, "%.3f", "Succinatate", (1485.5, 1802), ("stars", 1, 0.00075))

# ================================================================ N inset
txt(497, 1878, "N", 19)
rect(528, 1867, 748, 2041)
axN = cat_axes(593, 678, 1877.3, 2012.3, 619, 35, (0, 120), fs=4.5, lw=0.8, tl=2)
stacked(axN, [n_m0, n_m2, n_other], [N_COL["m+0"], N_COL["m+2"], N_COL["m+other"]], 0.6, 0.9)
axN.set_xticks([0, 1])
axN.set_xticklabels([])
axN.set_yticks(range(0, 121, 20))
legend_squares(688, [1935, 1954, 1973], n_names, [N_COL[k] for k in n_names], 11, 10, 5, 704,
               lw=0.8, weight="normal")
vlabel(548, 1943, "Percent Incorporation\nof [U-¹³C] glucose\ninto acetyl-coA", 4.5, fontweight="normal")
txt(574.5, 2031, "NCT-503", 4.5, fontweight="normal")
txt(to_px(axN, 0), 2031, "-", 4.5)
txt(to_px(axN, 1), 2031, "+", 4.5)

fig.savefig("out.png", dpi=100)
